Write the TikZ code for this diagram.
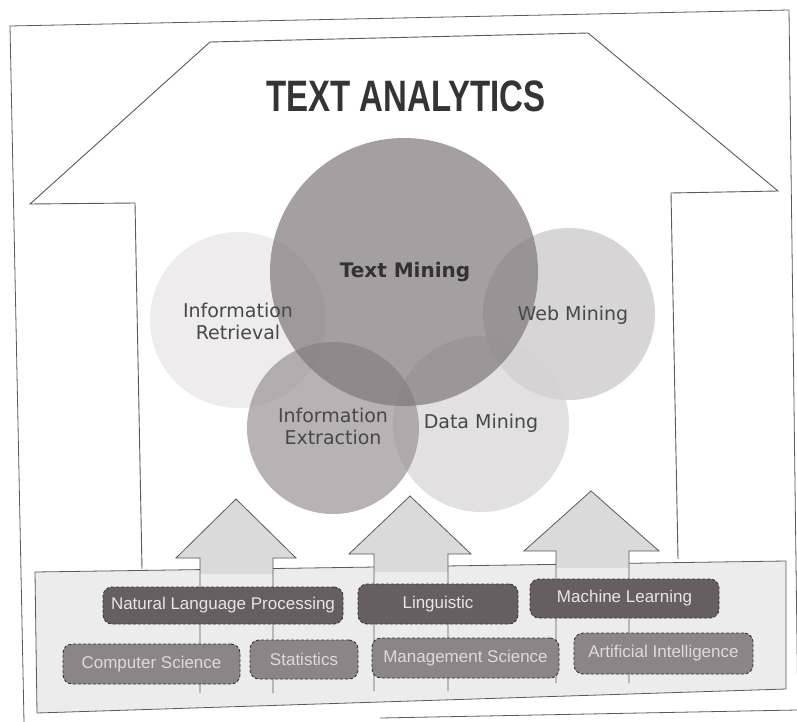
\documentclass[tikz,border=0pt]{standalone}
\usepackage{fontspec}
\setmainfont{DejaVu Sans}
\newfontfamily\boxfont{Liberation Sans}
\newfontfamily\titlefont{Liberation Sans}
\definecolor{tmc}{RGB}{128,119,122}
\definecolor{iec}{RGB}{154,146,149}
\definecolor{irc}{RGB}{231,229,229}
\definecolor{wmc}{RGB}{199,196,198}
\definecolor{dmc}{RGB}{214,211,212}
\definecolor{linec}{RGB}{90,90,90}
\definecolor{arrowfill}{RGB}{218,218,218}
\definecolor{boxbg}{RGB}{236,236,236}
\definecolor{darkbox}{RGB}{102,94,97}
\definecolor{lightbox}{RGB}{140,133,136}
\definecolor{boxedge}{RGB}{60,56,58}
\definecolor{labelc}{RGB}{72,72,72}
\tikzset{
  framestyle/.style={draw=linec, line width=0.8pt},
  housestyle/.style={draw=linec, line width=0.9pt, line join=miter},
  venn/.style={circle, inner sep=0pt, fill opacity=0.7, draw=none},
  vlabel/.style={text=labelc, font=\fontsize{19}{22}\selectfont, align=center},
  arrowbody/.style={fill=arrowfill, draw=none},
  arrowline/.style={draw=linec, line width=0.8pt},
  tagbox/.style={draw=boxedge, line width=0.9pt, dash pattern=on 3pt off 2pt,
     rounded corners=9pt, inner sep=0pt, font=\boxfont\fontsize{17}{20}\selectfont},
  toptag/.style={tagbox, fill=darkbox, text={rgb,255:red,232;green,230;blue,231}},
  bottag/.style={tagbox, fill=lightbox, text={rgb,255:red,222;green,218;blue,220}}
}
\begin{document}
\begin{tikzpicture}[x=1pt,y=-1pt]
\useasboundingbox (0,0) rectangle (797,722);
\fill[white] (0,0) rectangle (797,722);
\clip (0,0) rectangle (797,722);
% outer page frame
\draw[framestyle] (24,722) -- (10,26) -- (789,10) -- (798,722);
\draw[framestyle] (380,718) -- (797,710);
% house-shaped arrow outline
\draw[housestyle] (142,569) -- (135,203) -- (30,204) -- (210,42) -- (588,33) -- (778,191) -- (671,193) -- (678,559);
% title
\node[anchor=base, text={rgb,255:red,52;green,52;blue,52}, font=\titlefont\bfseries\fontsize{44}{44}\selectfont] (title) at (406,112) {\scalebox{0.75}[1]{TEXT ANALYTICS}};
% venn circles
\node[venn, fill=irc, minimum size=176pt] (ir) at (238,320) {};
\node[venn, fill=wmc, minimum size=172pt] (wm) at (569,314) {};
\node[venn, fill=dmc, minimum size=176pt] (dm) at (481,424) {};
\node[venn, fill=iec, minimum size=172pt] (ie) at (333,428) {};
\node[venn, fill=tmc, minimum size=268pt] (tm) at (404,272) {};
% circle labels
\node[vlabel, text={rgb,255:red,50;green,50;blue,50}, font=\bfseries\fontsize{20}{24}\selectfont] (tmt) at (405,272) {Text Mining};
\node[vlabel] (irt) at (238,321) {Information\\Retrieval};
\node[vlabel] (wmt) at (573,315) {Web Mining};
\node[vlabel] (iet) at (333,426) {Information\\Extraction};
\node[vlabel] (dmt) at (481,423) {Data Mining};
% bottom panel
\draw[framestyle, fill=boxbg] (35,572) -- (786,561) -- (786,689) -- (37,713) -- cycle;
% three up arrows
\fill[arrowbody] (236,499) -- (296,558) -- (273,558) -- (273,574) -- (200,574) -- (200,558) -- (176,558) -- cycle;
\draw[arrowline] (200,693) -- (200,558) -- (176,558) -- (236,499) -- (296,558) -- (273,558) -- (273,693);
\fill[arrowbody] (410,496) -- (471,554) -- (448,554) -- (448,572) -- (374,572) -- (374,554) -- (349,554) -- cycle;
\draw[arrowline] (374,691) -- (374,554) -- (349,554) -- (410,496) -- (471,554) -- (448,554) -- (448,691);
\fill[arrowbody] (591,491) -- (659,551) -- (629,551) -- (629,568) -- (556,568) -- (556,551) -- (524,551) -- cycle;
\draw[arrowline] (556,683) -- (556,551) -- (524,551) -- (591,491) -- (659,551) -- (629,551) -- (629,683);
% discipline tags
\node[toptag, minimum width=240pt, minimum height=37pt] (nlp) at (223,605.5) {Natural Language Processing};
\node[toptag, minimum width=160pt, minimum height=40pt] (ling) at (438,604) {Linguistic};
\node[toptag, minimum width=189pt, minimum height=39pt] (ml) at (624.5,598.5) {Machine Learning};
\node[bottag, minimum width=177pt, minimum height=40pt] (cs) at (151.5,664) {Computer Science};
\node[bottag, minimum width=108pt, minimum height=39pt] (stat) at (304,659.5) {Statistics};
\node[bottag, minimum width=187pt, minimum height=40pt] (ms) at (465.5,658) {Management Science};
\node[bottag, minimum width=179pt, minimum height=41pt] (ai) at (663.5,653.5) {Artificial Intelligence};
\end{tikzpicture}
\end{document}
